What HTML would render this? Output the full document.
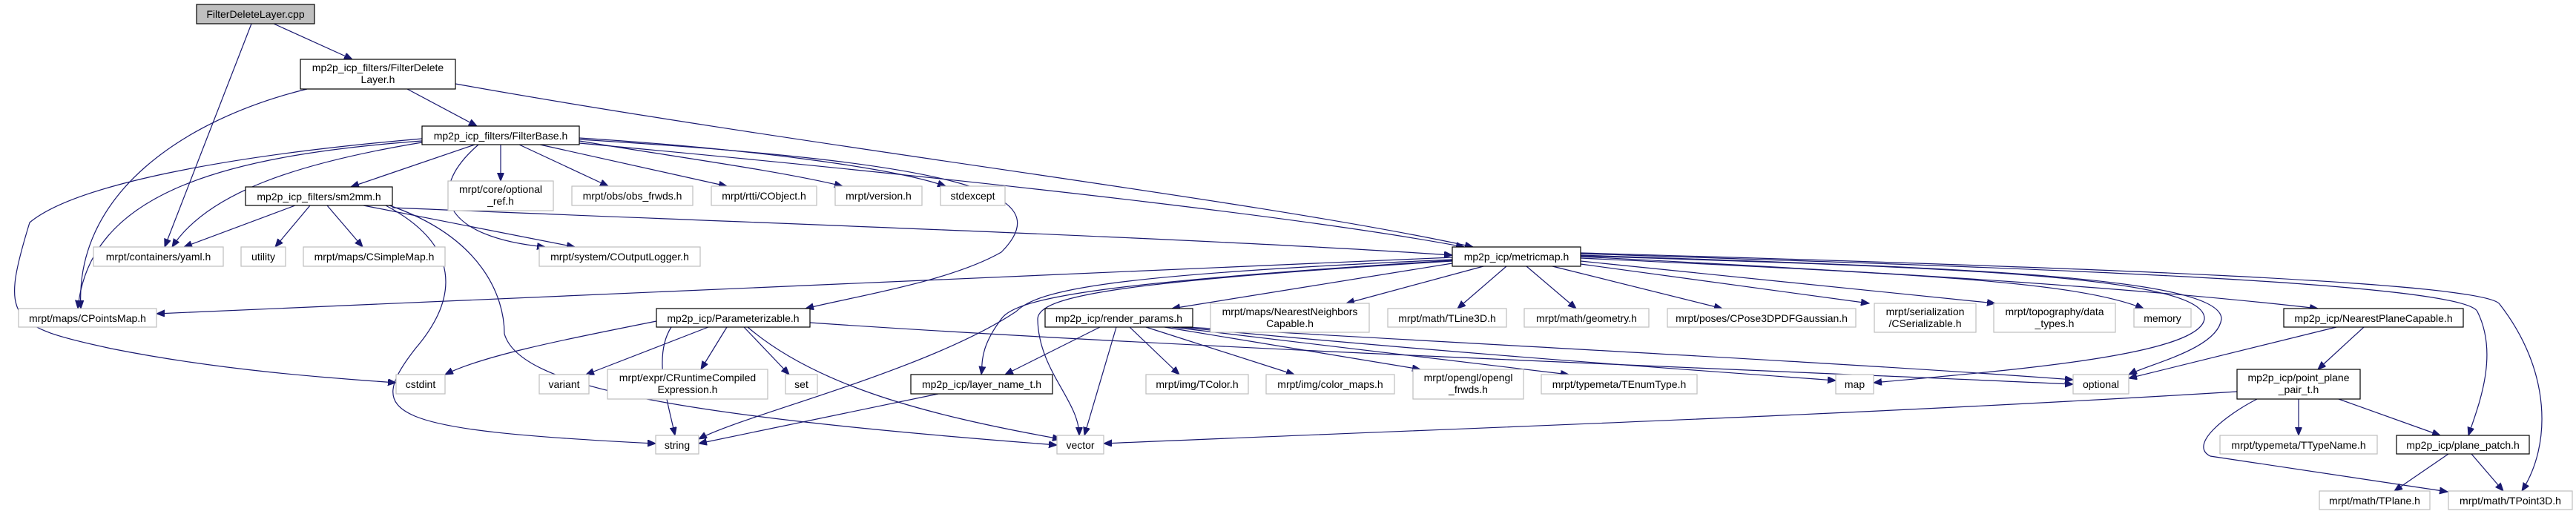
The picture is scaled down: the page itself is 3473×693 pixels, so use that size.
<!DOCTYPE html>
<html><head><meta charset="utf-8"><style>
html,body{margin:0;padding:0;background:#fff;}
svg{display:block;}
text{font-family:"Liberation Sans",sans-serif;font-size:14px;fill:#000;}
.m{fill:#fff;stroke:#000;stroke-width:1.2;}
.g{fill:#fff;stroke:#bfbfbf;stroke-width:1.2;}
.e{fill:none;stroke:#191970;stroke-width:1.2;marker-end:url(#a);}
</style></head><body>
<svg width="3473" height="693" viewBox="0 0 3473 693" xmlns="http://www.w3.org/2000/svg">
<defs><marker id="a" markerUnits="userSpaceOnUse" markerWidth="12" markerHeight="10" refX="11" refY="4.5" orient="auto"><path d="M0,0 L11,4.5 L0,9 z" fill="#191970" stroke="#191970"/></marker></defs>
<g>
<path class="e" d="M369,32 L475,80"/>
<path class="e" d="M339,32 L222,333"/>
<path class="e" d="M549,120 L643,170"/>
<path class="e" d="M414,120 C250,160 100,260 109,416"/>
<path class="e" d="M614,113 C1100,200 1700,270 1986,333"/>
<path class="e" d="M640,195 L473,252"/>
<path class="e" d="M675,195 L675,244"/>
<path class="e" d="M700,195 L820,251"/>
<path class="e" d="M728,195 L980,251"/>
<path class="e" d="M781,190 C900,210 1050,230 1136,251"/>
<path class="e" d="M781,186 C1000,200 1200,225 1275,251"/>
<path class="e" d="M569,192 C400,220 280,260 232,333"/>
<path class="e" d="M569,190 C300,210 120,260 105,416"/>
<path class="e" d="M569,187 C300,210 100,250 40,300 C0,430 10,440 150,470 C300,500 450,510 534,516"/>
<path class="e" d="M645,195 C570,260 600,320 735,333"/>
<path class="e" d="M781,188 C1300,220 1430,260 1350,340 C1280,380 1150,400 1086,416"/>
<path class="e" d="M781,193 C1400,250 1800,300 1974,333"/>
<path class="e" d="M398,277 L248,333"/>
<path class="e" d="M418,277 L371,333"/>
<path class="e" d="M441,277 L489,333"/>
<path class="e" d="M490,277 L775,333"/>
<path class="e" d="M529,280 C1000,300 1600,320 1958,344"/>
<path class="e" d="M520,277 C620,330 620,400 560,470 C490,560 520,580 884,598"/>
<path class="e" d="M525,277 C650,320 680,400 680,450 C700,520 900,560 1425,600"/>
<path class="e" d="M1958,347 L211,423"/>
<path class="e" d="M1958,355 L1580,416"/>
<path class="e" d="M2000,359 L1815,409"/>
<path class="e" d="M2031,359 L1965,416"/>
<path class="e" d="M2058,359 L2125,416"/>
<path class="e" d="M2093,359 L2322,416"/>
<path class="e" d="M2131,356 L2520,409"/>
<path class="e" d="M2131,352 L2690,409"/>
<path class="e" d="M2131,348 C2600,370 2800,380 2890,416"/>
<path class="e" d="M2131,346 C2600,370 2900,390 3125,416"/>
<path class="e" d="M2131,344 C2600,360 2995,370 2995,430 C2990,470 2900,490 2870,505"/>
<path class="e" d="M2131,345 C2600,360 2975,370 2972,430 C2965,480 2700,500 2526,516"/>
<path class="e" d="M2131,342 C2700,360 3320,380 3340,420 C3370,480 3340,550 3328,587"/>
<path class="e" d="M2131,341 C2800,360 3350,380 3370,410 C3440,500 3440,600 3400,662"/>
<path class="e" d="M1958,350 C1500,370 1400,390 1370,420 C1250,500 1000,560 942,592"/>
<path class="e" d="M1958,352 C1500,380 1400,400 1399,430 C1400,500 1455,540 1455,587"/>
<path class="e" d="M1958,351 C1500,380 1370,400 1350,430 C1320,470 1325,490 1323,505"/>
<path class="e" d="M885,433 C750,460 650,480 600,505"/>
<path class="e" d="M955,441 L790,505"/>
<path class="e" d="M980,441 L945,498"/>
<path class="e" d="M1003,441 L1064,505"/>
<path class="e" d="M1008,441 C1100,520 1250,560 1430,592"/>
<path class="e" d="M905,441 C880,480 900,540 910,587"/>
<path class="e" d="M1092,435 C1600,470 2400,500 2795,518"/>
<path class="e" d="M1483,441 L1355,505"/>
<path class="e" d="M1505,441 L1462,587"/>
<path class="e" d="M1523,441 L1590,505"/>
<path class="e" d="M1545,441 L1745,505"/>
<path class="e" d="M1570,441 L1915,498"/>
<path class="e" d="M1580,441 L2115,505"/>
<path class="e" d="M1590,441 C2000,480 2300,500 2475,513"/>
<path class="e" d="M1600,441 C2100,470 2500,490 2795,512"/>
<path class="e" d="M1265,531 L942,598"/>
<path class="e" d="M3150,441 L2870,510"/>
<path class="e" d="M3187,441 L3125,498"/>
<path class="e" d="M3016,528 C2500,560 1900,580 1488,598"/>
<path class="e" d="M3099,538 L3099,587"/>
<path class="e" d="M3153,538 L3290,587"/>
<path class="e" d="M3043,538 C3000,560 2950,600 2980,615 L3300,663"/>
<path class="e" d="M3301,612 L3228,662"/>
<path class="e" d="M3332,612 L3375,662"/>
</g>
<g text-anchor="middle">
<rect x="265" y="6" width="159" height="26" fill="#bfbfbf" stroke="#000" stroke-width="1.2"/><text x="344.5" y="24">FilterDeleteLayer.cpp</text>
<rect class="m" x="405" y="80" width="209" height="40"/><text x="509.5" y="96">mp2p_icp_filters/FilterDelete</text><text x="509.5" y="112">Layer.h</text>
<rect class="m" x="569" y="170" width="212" height="25"/><text x="675" y="188">mp2p_icp_filters/FilterBase.h</text>
<rect class="m" x="331" y="252" width="198" height="25"/><text x="430" y="270">mp2p_icp_filters/sm2mm.h</text>
<rect class="g" x="604" y="244" width="142" height="40"/><text x="675" y="260">mrpt/core/optional</text><text x="675" y="276">_ref.h</text>
<rect class="g" x="771" y="251" width="163" height="26"/><text x="852.5" y="269">mrpt/obs/obs_frwds.h</text>
<rect class="g" x="959" y="251" width="142" height="26"/><text x="1030" y="269">mrpt/rtti/CObject.h</text>
<rect class="g" x="1126" y="251" width="117" height="26"/><text x="1184.5" y="269">mrpt/version.h</text>
<rect class="g" x="1268" y="251" width="87" height="26"/><text x="1311.5" y="269">stdexcept</text>
<rect class="g" x="126" y="333" width="175" height="26"/><text x="213.5" y="351">mrpt/containers/yaml.h</text>
<rect class="g" x="325" y="333" width="60" height="26"/><text x="355" y="351">utility</text>
<rect class="g" x="409" y="333" width="191" height="26"/><text x="504.5" y="351">mrpt/maps/CSimpleMap.h</text>
<rect class="g" x="727" y="333" width="217" height="26"/><text x="835.5" y="351">mrpt/system/COutputLogger.h</text>
<rect class="m" x="1958" y="333" width="173" height="26"/><text x="2044.5" y="351">mp2p_icp/metricmap.h</text>
<rect class="g" x="25" y="416" width="186" height="25"/><text x="118" y="434">mrpt/maps/CPointsMap.h</text>
<rect class="m" x="885" y="416" width="207" height="25"/><text x="988.5" y="434">mp2p_icp/Parameterizable.h</text>
<rect class="m" x="1409" y="416" width="199" height="25"/><text x="1508.5" y="434">mp2p_icp/render_params.h</text>
<rect class="g" x="1632" y="409" width="214" height="39"/><text x="1739" y="425">mrpt/maps/NearestNeighbors</text><text x="1739" y="441">Capable.h</text>
<rect class="g" x="1871" y="416" width="160" height="25"/><text x="1951" y="434">mrpt/math/TLine3D.h</text>
<rect class="g" x="2055" y="416" width="168" height="25"/><text x="2139" y="434">mrpt/math/geometry.h</text>
<rect class="g" x="2248" y="416" width="254" height="25"/><text x="2375" y="434">mrpt/poses/CPose3DPDFGaussian.h</text>
<rect class="g" x="2527" y="409" width="137" height="39"/><text x="2595.5" y="425">mrpt/serialization</text><text x="2595.5" y="441">/CSerializable.h</text>
<rect class="g" x="2688" y="409" width="164" height="39"/><text x="2770" y="425">mrpt/topography/data</text><text x="2770" y="441">_types.h</text>
<rect class="g" x="2877" y="416" width="77" height="25"/><text x="2915.5" y="434">memory</text>
<rect class="m" x="3079" y="416" width="242" height="25"/><text x="3200" y="434">mp2p_icp/NearestPlaneCapable.h</text>
<rect class="g" x="534" y="505" width="66" height="26"/><text x="567" y="523">cstdint</text>
<rect class="g" x="727" y="505" width="67" height="26"/><text x="760.5" y="523">variant</text>
<rect class="g" x="819" y="498" width="216" height="40"/><text x="927" y="514">mrpt/expr/CRuntimeCompiled</text><text x="927" y="530">Expression.h</text>
<rect class="g" x="1059" y="505" width="43" height="26"/><text x="1080.5" y="523">set</text>
<rect class="m" x="1228" y="505" width="191" height="26"/><text x="1323.5" y="523">mp2p_icp/layer_name_t.h</text>
<rect class="g" x="1545" y="505" width="138" height="26"/><text x="1614" y="523">mrpt/img/TColor.h</text>
<rect class="g" x="1707" y="505" width="173" height="26"/><text x="1793.5" y="523">mrpt/img/color_maps.h</text>
<rect class="g" x="1905" y="498" width="149" height="40"/><text x="1979.5" y="514">mrpt/opengl/opengl</text><text x="1979.5" y="530">_frwds.h</text>
<rect class="g" x="2078" y="505" width="210" height="26"/><text x="2183" y="523">mrpt/typemeta/TEnumType.h</text>
<rect class="g" x="2475" y="505" width="51" height="26"/><text x="2500.5" y="523">map</text>
<rect class="g" x="2795" y="505" width="75" height="26"/><text x="2832.5" y="523">optional</text>
<rect class="m" x="3016" y="498" width="166" height="40"/><text x="3099" y="514">mp2p_icp/point_plane</text><text x="3099" y="530">_pair_t.h</text>
<rect class="g" x="884" y="587" width="58" height="25"/><text x="913" y="605">string</text>
<rect class="g" x="1425" y="587" width="63" height="25"/><text x="1456.5" y="605">vector</text>
<rect class="g" x="2993" y="587" width="212" height="25"/><text x="3099" y="605">mrpt/typemeta/TTypeName.h</text>
<rect class="m" x="3231" y="587" width="179" height="25"/><text x="3320.5" y="605">mp2p_icp/plane_patch.h</text>
<rect class="g" x="3127" y="662" width="149" height="25"/><text x="3201.5" y="680">mrpt/math/TPlane.h</text>
<rect class="g" x="3301" y="662" width="167" height="25"/><text x="3384.5" y="680">mrpt/math/TPoint3D.h</text>
</g>
</svg>
</body></html>
